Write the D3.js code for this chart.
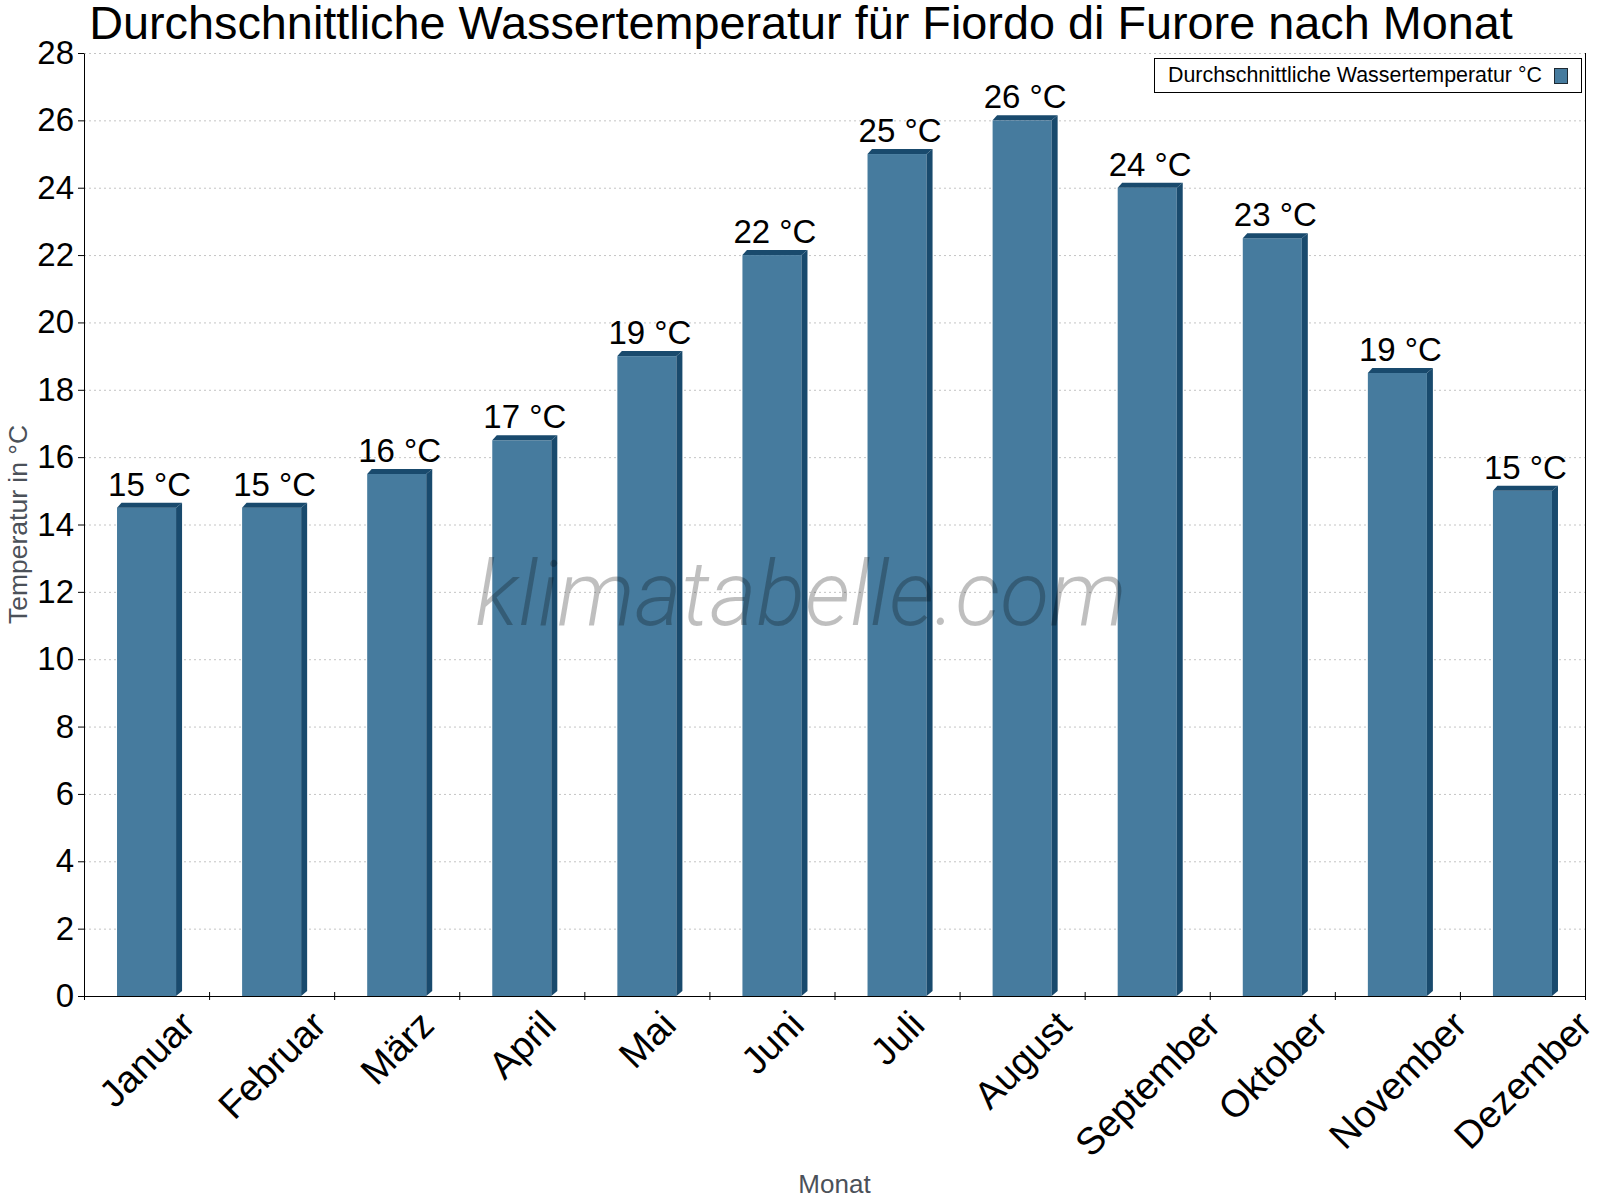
<!DOCTYPE html>
<html>
<head>
<meta charset="utf-8">
<script src="https://cdn.jsdelivr.net/npm/d3@7"></script>
<style>
  body { margin: 0; background: #fff; }
  text { font-family: "Liberation Sans", Arial, sans-serif; }
</style>
</head>
<body>
<svg width="1600" height="1200"></svg>
<script>
var months = ["Januar", "Februar", "März", "April", "Mai", "Juni", "Juli",
              "August", "September", "Oktober", "November", "Dezember"];
var waterTemp = [14.5, 14.5, 15.5, 16.5, 19, 22, 25, 26, 24, 22.5, 18.5, 15];
var yTicks = [0, 2, 4, 6, 8, 10, 12, 14, 16, 18, 20, 22, 24, 26, 28];
var seriesName = "Durchschnittliche Wassertemperatur °C";

var svg = d3.select("svg"),
    margin = {top: 53, right: 15, bottom: 204, left: 84},
    width = +svg.attr("width") - margin.left - margin.right,
    height = +svg.attr("height") - margin.top - margin.bottom;

var front = "#467b9e", dark = "#194a6d";
var depthX = 6, depthY = 5;

var x = d3.scaleBand().domain(months).range([0, width])
    .paddingInner(0.528).paddingOuter(0.264);
var xb = d3.scaleLinear().domain([0, months.length]).range([0, width]);
var y = d3.scaleLinear().domain([0, 28]).range([height, 0]);

var g = svg.append("g")
    .attr("transform", "translate(" + margin.left + "," + margin.top + ")");

// grid
g.append("g").selectAll("line")
    .data(yTicks.filter(function (d) { return d > 0; }))
    .enter().append("line")
    .attr("x1", 0).attr("x2", width)
    .attr("y1", function (d) { return y(d) + 0.5; })
    .attr("y2", function (d) { return y(d) + 0.5; })
    .attr("stroke", "#c4c4c4")
    .attr("stroke-dasharray", "2,3");

// watermark
svg.append("text")
    .attr("x", 801).attr("y", 625)
    .attr("text-anchor", "middle")
    .style("font-family", "Roboto")
    .style("font-weight", 300)
    .style("font-style", "italic")
    .style("font-size", "90px")
    .attr("fill", "rgba(0,0,0,0.25)")
    .text("klimatabelle.com");

// bars
var bars = g.append("g").selectAll("g")
    .data(waterTemp)
    .enter().append("g");

bars.append("rect")
    .attr("x", function (d, i) { return x(months[i]); })
    .attr("y", function (d) { return y(d); })
    .attr("width", x.bandwidth())
    .attr("height", function (d) { return height - y(d); })
    .attr("fill", front);

bars.append("path")
    .attr("fill", dark)
    .attr("d", function (d, i) {
        var x0 = x(months[i]), x1 = x0 + x.bandwidth(), y0 = y(d);
        return "M" + x0 + "," + y0 + "L" + (x0 + depthX - 1.5) + "," + (y0 - depthY) +
            "L" + (x1 + depthX) + "," + (y0 - depthY) + "L" + x1 + "," + y0 + "Z";
    });

bars.append("path")
    .attr("fill", dark)
    .attr("d", function (d, i) {
        var x1 = x(months[i]) + x.bandwidth(), y0 = y(d);
        return "M" + x1 + "," + y0 + "L" + (x1 + depthX) + "," + (y0 - depthY) +
            "L" + (x1 + depthX) + "," + (height - depthY) + "L" + x1 + "," + height + "Z";
    });

bars.append("text")
    .attr("x", function (d, i) { return x(months[i]) + (x.bandwidth() + depthX) / 2; })
    .attr("y", function (d) { return y(d) - depthY - 7; })
    .attr("text-anchor", "middle")
    .style("font-size", "33px")
    .attr("fill", "#000")
    .text(function (d) { return Math.round(d) + " °C"; });

// y axis
var yAxis = g.append("g")
    .call(d3.axisLeft(y).tickValues(yTicks).tickSize(6).tickSizeOuter(0).tickPadding(4));
yAxis.select(".domain").attr("stroke", "#000");
yAxis.selectAll(".tick line").attr("stroke", "#000");
yAxis.selectAll(".tick text")
    .style("font-family", "Liberation Sans, Arial, sans-serif")
    .style("font-size", "33px")
    .attr("fill", "#000");

// right border
g.append("line")
    .attr("x1", width + 0.5).attr("x2", width + 0.5)
    .attr("y1", 0).attr("y2", height)
    .attr("stroke", "#000");

// x axis
var xAxis = g.append("g")
    .attr("transform", "translate(0," + height + ")")
    .call(d3.axisBottom(xb).ticks(months.length).tickSize(4).tickSizeOuter(0).tickFormat(""));
xAxis.select(".domain").attr("stroke", "#000");
xAxis.selectAll(".tick line").attr("stroke", "#000")
    .attr("y1", function (d) { return d === 0 ? 0 : -4; });

var labelSize = 38, capH = labelSize * 0.716;
g.append("g").selectAll("text")
    .data(months)
    .enter().append("text")
    .style("font-size", labelSize + "px")
    .attr("text-anchor", "middle")
    .attr("y", capH / 2)
    .attr("fill", "#000")
    .text(function (d) { return d; })
    .attr("transform", function (d) {
        var w = this.getComputedTextLength();
        var cy = (1008 - margin.top) + (w + capH) * Math.SQRT1_2 / 2;
        return "translate(" + (x(d) + x.bandwidth() / 2) + "," + cy + ") rotate(-45)";
    });

// axis titles
svg.append("text")
    .attr("x", margin.left + width / 2).attr("y", 1193)
    .attr("text-anchor", "middle")
    .style("font-size", "26px")
    .attr("fill", "#4b5159")
    .text("Monat");

svg.append("text")
    .attr("transform", "translate(27," + (margin.top + height / 2) + ") rotate(-90)")
    .attr("text-anchor", "middle")
    .style("font-size", "26.5px")
    .attr("fill", "#4b5159")
    .text("Temperatur in °C");

// title
svg.append("text")
    .attr("x", 801).attr("y", 39)
    .attr("text-anchor", "middle")
    .style("font-size", "46.8px")
    .attr("fill", "#000")
    .text("Durchschnittliche Wassertemperatur für Fiordo di Furore nach Monat");

// legend
var legend = svg.append("g");
legend.append("rect")
    .attr("x", 1154.5).attr("y", 58.5)
    .attr("width", 427).attr("height", 34)
    .attr("fill", "#fff").attr("stroke", "#000");
legend.append("text")
    .attr("x", 1168).attr("y", 82)
    .style("font-size", "21.4px")
    .attr("fill", "#000")
    .text(seriesName);
legend.append("rect")
    .attr("x", 1554.5).attr("y", 68.5)
    .attr("width", 13).attr("height", 15)
    .attr("fill", front).attr("stroke", "#1e2a33");
</script>
</body>
</html>
